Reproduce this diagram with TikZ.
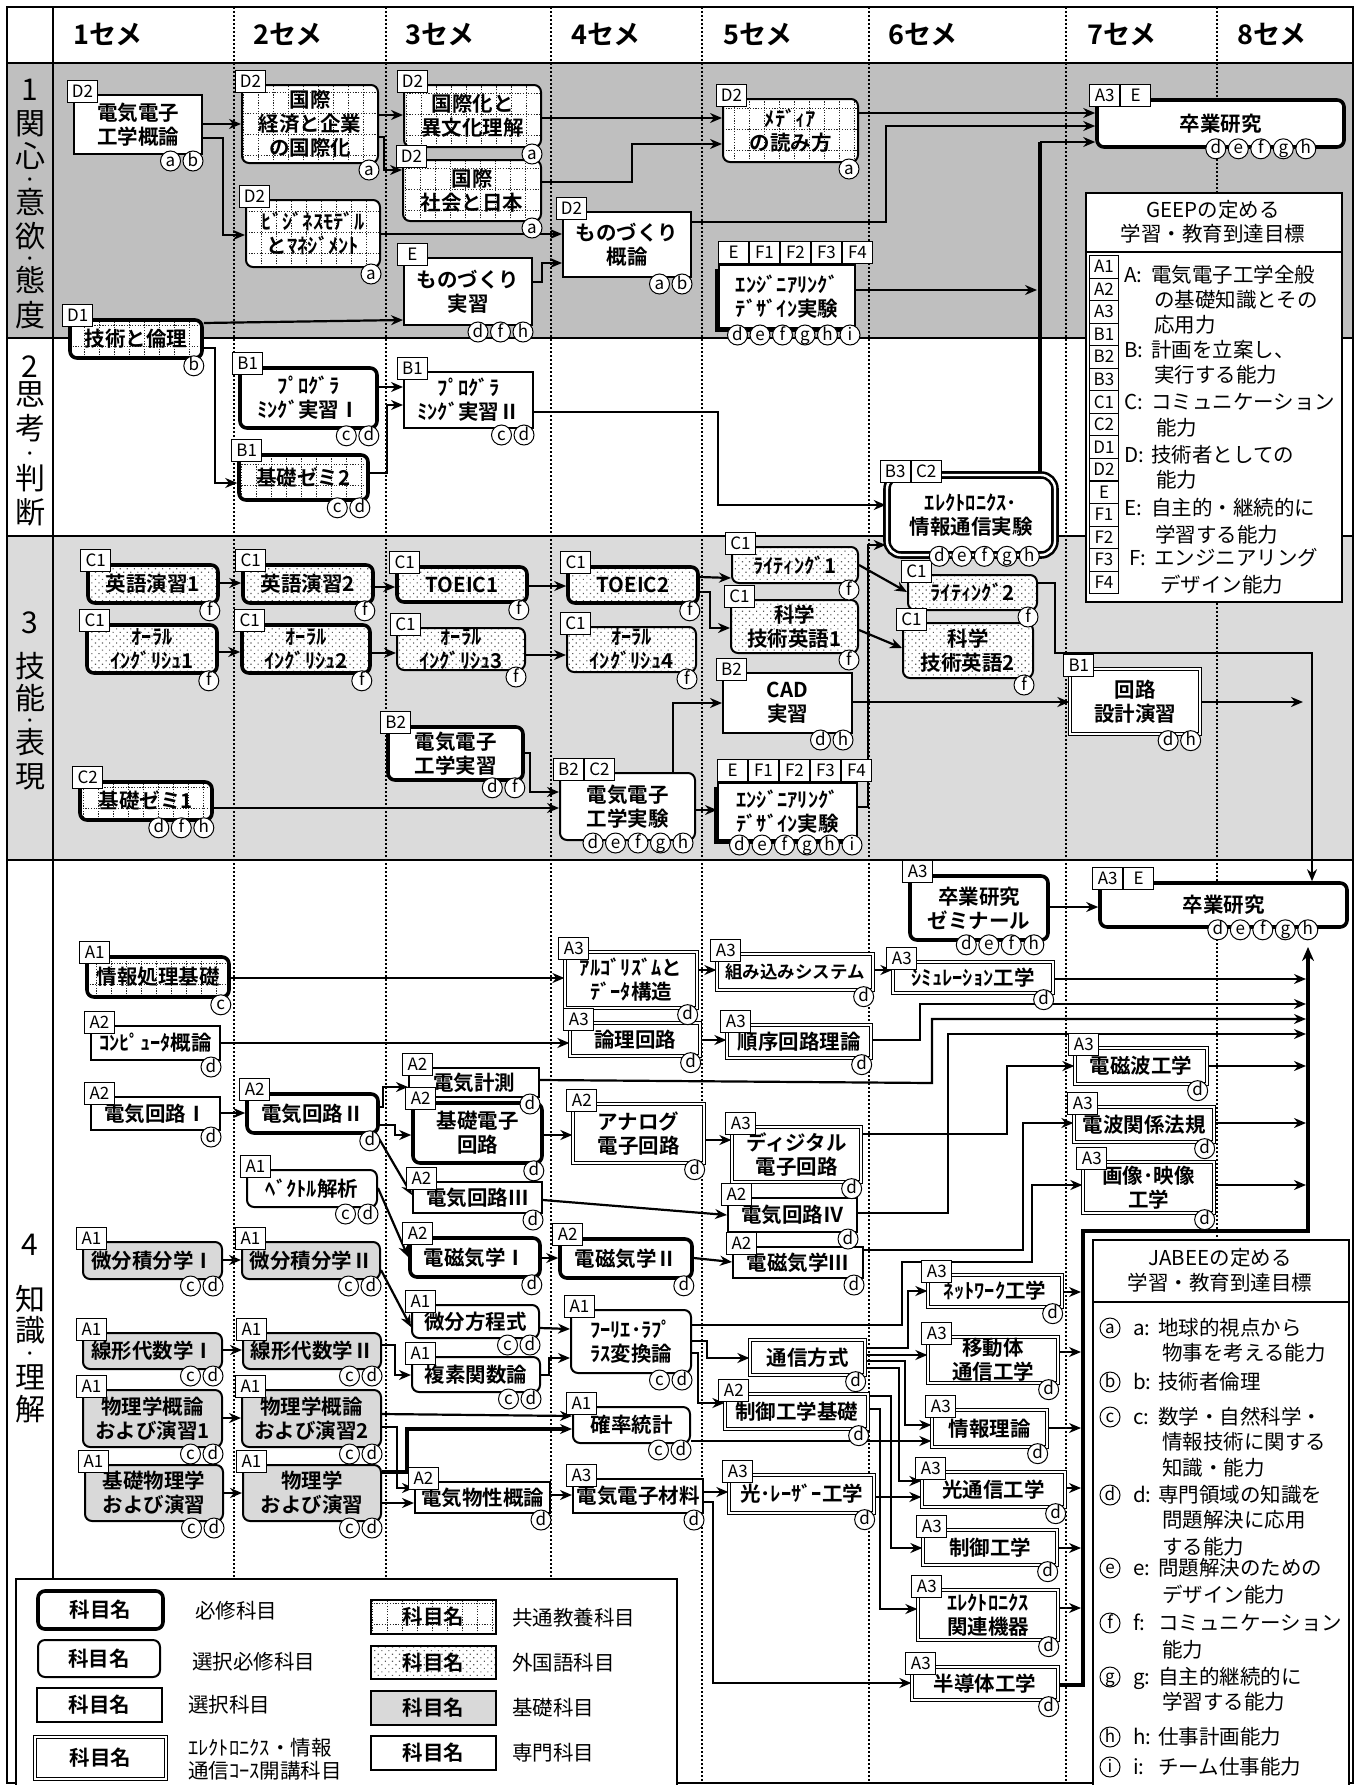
\documentclass[tikz,border=0pt]{standalone}
\usepackage{fontspec}
\setmainfont{Noto Sans CJK JP}[BoldFont={Noto Sans CJK JP Bold}]
\usetikzlibrary{arrows.meta,patterns.meta,shadows}
\pgfdeclarelayer{bg}
\pgfdeclarelayer{conn}
\pgfsetlayers{bg,conn,main}
\newcommand\nf{\bfseries\fontsize{20.5}{24}\selectfont}
\newcommand\lf{\fontsize{20.5}{25}\selectfont}
\newcommand\crs[7]{\node[#2, minimum width={(#5)-(#3)}, minimum height={(#6)-(#4)}] (#1) at ({((#3)+(#5))/2},{((#4)+(#6))/2}) {#7};}
\newcommand\tgx[4]{\foreach \tgl [count=\tgi from 0] in {#4} {\node[tagb, anchor=south west] at ([xshift={#2+\tgi*31}, yshift={#3}]#1.north west) {\tgl};}}
\newcommand\tg[2]{\tgx{#1}{-6}{-9}{#2}}
\newcommand\cix[5]{\foreach \cil [count=\cii from 1] in {#5} {\node[cir] at ([xshift={#2-(#4-\cii)*22.5}, yshift={#3}]#1.south east) {\cil};}}
\newcommand\ci[3]{\cix{#1}{-10}{-6}{#2}{#3}}
\newcommand\rlfont{\fontsize{30}{34}\selectfont}
\newcommand\rdot{\raisebox{6.5pt}{\bfseries\fontsize{13}{13}\selectfont ・}}
\begin{document}
\lineskiplimit=-1000pt
\begin{tikzpicture}[x=1pt,y=-1pt,
 base/.style={draw, fill=white, inner sep=0pt, align=center, font=\nf, line width=2pt},
 req/.style={base, line width=3.6pt, rounded corners=7pt},
 sreq/.style={base, line width=2pt, rounded corners=7pt},
 sel/.style={base, line width=2pt},
 ele/.style={base, line width=1.3pt, double, double distance=2.2pt},
 kyo/.style={path picture={\draw[black!85, line width=1pt, dash pattern=on 1.2pt off 1.5pt, xstep=15pt, ystep=21pt] (path picture bounding box.south west) grid (path picture bounding box.north east);}},
 gai/.style={preaction={fill=white}, pattern={Dots[distance=5pt, radius=0.8pt, angle=45]}, pattern color=black!65},
 kiso/.style={fill=black!15},
 shd/.style={base, line width=2pt, drop shadow={shadow xshift=-4pt, shadow yshift=-4pt, opacity=1, fill=black}},
 dthick/.style={base, line width=2.6pt, double, double distance=2.4pt, rounded corners=14pt},
 small/.style={font=\bfseries\fontsize{17.5}{21}\selectfont},
 tagb/.style={draw, fill=white, line width=1pt, minimum width=30pt, minimum height=22pt, inner sep=0pt, font=\fontsize{17}{17}\selectfont, text height=12pt, text depth=0pt},
 cir/.style={circle, draw, fill=white, line width=1pt, minimum size=20pt, inner sep=0pt, font=\fontsize{17}{17}\selectfont, text height=11pt, text depth=1pt},
 ar/.style={line width=2.2pt, -{Stealth[length=12pt,width=10pt]}},
 thk/.style={line width=4pt},
 coldot/.style={line width=1.6pt, dash pattern=on 1.6pt off 2.4pt},
 rlab/.style={anchor=north, inner sep=0pt, align=center, font=\rlfont},
 hdr/.style={anchor=west, inner sep=0pt, font=\bfseries\fontsize{27}{27}\selectfont, text height=23pt, text depth=4pt},
 gtxt/.style={anchor=west, inner sep=0pt, font=\lf, text height=18pt, text depth=4pt},
 ctxt/.style={inner sep=0pt, font=\lf, text height=18pt, text depth=4pt},
]
\useasboundingbox (0,0) rectangle (1361,1785);
\begin{pgfonlayer}{bg}
 \fill[white] (0,0) rectangle (1361,1785);
 \fill[black!25] (7,63) rectangle (1353,338);
 \fill[black!14] (7,536) rectangle (1353,860);
 \foreach \xx in {234,386,551} \draw[coldot] (\xx,7) -- (\xx,1578);
 \foreach \xx in {702,869,1066} \draw[coldot] (\xx,7) -- (\xx,1783);
 \draw[coldot] (1217,7) -- (1217,1239);
 \foreach \yy in {63,338,536,860} \draw[line width=2pt] (7,\yy) -- (1353,\yy);
 \draw[line width=2pt] (53,7) -- (53,1578);
 \draw[line width=2pt] (7,7) rectangle (1353,1783);
\end{pgfonlayer}
% header
\foreach \lab/\xx in {1/73,2/253,3/405,4/571,5/723,6/888,7/1087,8/1237} \node[hdr] at (\xx,35) {\lab セメ};
% row labels
\node[rlab] (rl1) at (30,79) {1\\関\\[-1pt]心\\[-11pt]\rdot\\[-11pt]意\\欲\\[-12pt]\rdot\\[-12pt]態\\[1pt]度};
\node[rlab] (rl2) at (30,356) {2\\[-6pt]思\\考\\[-9pt]\rdot\\[-9pt]判\\断};
\node[rlab] (rl3) at (30,612) {3\\[10pt]技\\[-2pt]能\\[-12pt]\rdot\\[-12pt]表\\現};
\node[rlab] (rl4) at (30,1234) {4\\[21pt]知\\[-3pt]識\\[-11pt]\rdot\\[-10pt]理\\[-2pt]解};

% ---------- row 1
\crs{gk}{sel}{74}{95}{202}{154}{電気電子\\工学概論}
\crs{kk}{sreq,kyo}{242}{85}{378}{163}{国際\\経済と企業\\の国際化}
\crs{bm}{sreq,kyo}{246}{200}{380}{267}{ﾋﾞｼﾞﾈｽﾓﾃﾞﾙ\\とﾏﾈｼﾞﾒﾝﾄ}
\crs{gr}{req,kyo}{70}{320}{202}{358}{技術と倫理}
\crs{ib}{sreq,kyo}{404}{85}{541}{147}{国際化と\\異文化理解}
\crs{ks}{sreq,kyo}{403}{160}{541}{221}{国際\\社会と日本}
\crs{mj}{sel}{404}{258}{532}{325}{ものづくり\\実習}
\crs{mg}{sel}{563}{212}{691}{277}{ものづくり\\概論}
\crs{md}{sreq,kyo}{723}{99}{858}{162}{ﾒﾃﾞｨｱ\\の読み方}
\crs{ed1}{shd}{719}{265}{855}{328}{ｴﾝｼﾞﾆｱﾘﾝｸﾞ\\ﾃﾞｻﾞｲﾝ実験}
\crs{sk1}{req}{1097}{100}{1344}{147}{卒業研究}
% ---------- row 2
\crs{pj1}{req}{240}{368}{377}{428}{ﾌﾟﾛｸﾞﾗ\\ﾐﾝｸﾞ実習Ⅰ}
\crs{kz2}{req,kyo}{239}{455}{368}{500}{基礎ゼミ2}
\crs{pj2}{sel}{404}{372}{533}{428}{ﾌﾟﾛｸﾞﾗ\\ﾐﾝｸﾞ実習Ⅱ}
\crs{ej}{dthick}{887}{475}{1055}{555}{ｴﾚｸﾄﾛﾆｸｽ･\\情報通信実験}
% ---------- row 3
\crs{e1}{req,gai}{88}{565}{218}{603}{英語演習1}
\crs{e2}{req,gai}{243}{565}{373}{603}{英語演習2}
\crs{t1}{req,gai}{397}{567}{527}{602}{TOEIC1}
\crs{t2}{req,gai}{568}{567}{698}{603}{TOEIC2}
\crs{o1}{req,gai}{87}{625}{217}{673}{ｵｰﾗﾙ\\ｲﾝｸﾞﾘｼｭ1}
\crs{o2}{req,gai}{242}{625}{370}{673}{ｵｰﾗﾙ\\ｲﾝｸﾞﾘｼｭ2}
\crs{o3}{sreq,gai}{397}{628}{525}{670}{ｵｰﾗﾙ\\ｲﾝｸﾞﾘｼｭ3}
\crs{o4}{sreq,gai}{567}{627}{696}{672}{ｵｰﾗﾙ\\ｲﾝｸﾞﾘｼｭ4}
\crs{w1}{sreq,gai}{732}{547}{858}{583}{ﾗｲﾃｨﾝｸﾞ1}
\crs{g1}{sreq,gai}{731}{600}{858}{653}{科学\\技術英語1}
\crs{w2}{sreq,gai}{908}{575}{1037}{610}{ﾗｲﾃｨﾝｸﾞ2}
\crs{g2}{sreq,gai}{903}{623}{1033}{678}{科学\\技術英語2}
\crs{cad}{sel}{723}{673}{852}{733}{CAD\\実習}
\crs{ks2}{ele}{1070}{669}{1200}{734}{回路\\設計演習}
\crs{ej2}{req}{388}{727}{523}{780}{電気電子\\工学実習}
\crs{kz1}{req,kyo}{80}{782}{212}{820}{基礎ゼミ1}
\crs{ex}{sreq}{560}{773}{695}{840}{電気電子\\工学実験}
\crs{ed2}{shd}{718}{783}{857}{840}{ｴﾝｼﾞﾆｱﾘﾝｸﾞ\\ﾃﾞｻﾞｲﾝ実験}
% ---------- row 4
\crs{sz}{req}{910}{876}{1048}{940}{卒業研究\\ゼミナール}
\crs{sk2}{req}{1100}{883}{1347}{927}{卒業研究}
\crs{jk}{req,kyo}{87}{957}{229}{997}{情報処理基礎}
\crs{cg}{sel}{91}{1026}{220}{1060}{ｺﾝﾋﾟｭｰﾀ概論}
\crs{dk1}{sel}{91}{1097}{220}{1130}{電気回路Ⅰ}
\crs{dk2}{req}{247}{1094}{378}{1133}{電気回路Ⅱ}
\crs{vk}{sreq}{247}{1170}{377}{1207}{ﾍﾞｸﾄﾙ解析}
\crs{bs1}{sreq,kiso}{83}{1242}{222}{1279}{微分積分学Ⅰ}
\crs{bs2}{sreq,kiso}{242}{1242}{380}{1279}{微分積分学Ⅱ}
\crs{sd1}{sreq,kiso}{83}{1333}{222}{1369}{線形代数学Ⅰ}
\crs{sd2}{sreq,kiso}{243}{1333}{381}{1369}{線形代数学Ⅱ}
\crs{bg1}{sreq,kiso}{83}{1390}{222}{1447}{物理学概論\\および演習1}
\crs{bg2}{sreq,kiso}{242}{1390}{381}{1447}{物理学概論\\および演習2}
\crs{kb}{sreq,kiso}{85}{1465}{223}{1521}{基礎物理学\\および演習}
\crs{bt}{sreq,kiso}{243}{1465}{381}{1521}{物理学\\および演習}
\crs{dks}{sel}{409}{1068}{539}{1097}{電気計測}
\crs{kd}{req}{413}{1103}{542}{1163}{基礎電子\\回路}
\crs{dk3}{sel}{413}{1182}{542}{1213}{電気回路Ⅲ}
\crs{dj1}{req}{410}{1238}{540}{1277}{電磁気学Ⅰ}
\crs{bh}{sreq}{412}{1305}{539}{1338}{微分方程式}
\crs{fk}{sreq}{412}{1357}{540}{1392}{複素関数論}
\crs{db}{sel}{415}{1482}{550}{1513}{電気物性概論}
\crs{al}{ele}{565}{952}{697}{1008}{ｱﾙｺﾞﾘｽﾞﾑと\\ﾃﾞｰﾀ構造}
\crs{rk}{ele}{570}{1023}{700}{1056}{論理回路}
\crs{an}{ele}{573}{1104}{704}{1163}{アナログ\\電子回路}
\crs{dj2}{req}{560}{1239}{692}{1278}{電磁気学Ⅱ}
\crs{fr}{sreq}{571}{1310}{691}{1373}{ﾌｰﾘｴ･ﾗﾌﾟ\\ﾗｽ変換論}
\crs{kt}{sreq}{573}{1407}{690}{1443}{確率統計}
\crs{dz}{sel}{573}{1479}{703}{1513}{電気電子材料}
\crs{km}{ele,small}{717}{954}{873}{990}{組み込みシステム}
\crs{jr}{ele}{727}{1025}{871}{1058}{順序回路理論}
\crs{dg}{ele}{732}{1127}{861}{1182}{ディジタル\\電子回路}
\crs{dk4}{sel}{728}{1198}{857}{1232}{電気回路Ⅳ}
\crs{dj3}{sel}{733}{1247}{863}{1278}{電磁気学Ⅲ}
\crs{ts}{ele}{750}{1340}{865}{1375}{通信方式}
\crs{sk}{ele}{725}{1394}{868}{1429}{制御工学基礎}
\crs{hl}{ele}{729}{1475}{874}{1513}{光･ﾚｰｻﾞｰ工学}
\crs{sm}{ele}{893}{962}{1053}{993}{ｼﾐｭﾚｰｼｮﾝ工学}
\crs{dh}{ele}{1075}{1048}{1207}{1084}{電磁波工学}
\crs{dp}{ele}{1074}{1107}{1214}{1142}{電波関係法規}
\crs{gz}{ele}{1083}{1162}{1214}{1213}{画像･映像\\工学}
\crs{nw}{ele}{928}{1275}{1062}{1307}{ﾈｯﾄﾜｰｸ工学}
\crs{it}{ele}{928}{1337}{1058}{1383}{移動体\\通信工学}
\crs{jo}{ele}{932}{1410}{1047}{1447}{情報理論}
\crs{ht}{ele}{922}{1472}{1065}{1507}{光通信工学}
\crs{sg}{ele}{923}{1530}{1057}{1565}{制御工学}
\crs{ek}{ele}{918}{1590}{1058}{1640}{ｴﾚｸﾄﾛﾆｸｽ\\関連機器}
\crs{hd}{ele}{912}{1667}{1058}{1700}{半導体工学}

% tags
\tg{gk}{D2}\tg{kk}{D2}\tg{bm}{D2}\tg{gr}{D1}\tg{ib}{D2}\tg{ks}{D2}\tg{mj}{E}\tg{mg}{D2}\tg{md}{D2}
\tgx{ed1}{0}{0}{E,F1,F2,F3,F4}\tg{sk1}{A3,E}
\tg{pj1}{B1}\tg{kz2}{B1}\tg{pj2}{B1}\tg{ej}{B3,C2}
\tg{e1}{C1}\tg{e2}{C1}\tg{t1}{C1}\tg{t2}{C1}\tg{o1}{C1}\tg{o2}{C1}\tg{o3}{C1}\tg{o4}{C1}
\tg{w1}{C1}\tg{g1}{C1}\tg{w2}{C1}\tg{g2}{C1}\tg{cad}{B2}\tg{ks2}{B1}\tg{ej2}{B2}\tg{kz1}{C2}\tg{ex}{B2,C2}
\tgx{ed2}{0}{0}{E,F1,F2,F3,F4}
\tg{sz}{A3}\tg{sk2}{A3,E}\tg{jk}{A1}\tg{cg}{A2}\tg{dk1}{A2}\tg{dk2}{A2}\tg{vk}{A1}
\tg{bs1}{A1}\tg{bs2}{A1}\tg{sd1}{A1}\tg{sd2}{A1}\tg{bg1}{A1}\tg{bg2}{A1}\tg{kb}{A1}\tg{bt}{A1}
\tg{dks}{A2}\tg{kd}{A2}\tg{dk3}{A2}\tg{dj1}{A2}\tg{bh}{A1}\tg{fk}{A1}\tg{db}{A2}
\tg{al}{A3}\tg{rk}{A3}\tg{an}{A2}\tg{dj2}{A2}\tg{fr}{A1}\tg{kt}{A1}\tg{dz}{A3}
\tg{km}{A3}\tg{jr}{A3}\tg{dg}{A3}\tg{dk4}{A2}\tg{dj3}{A2}\tg{sk}{A2}\tg{hl}{A3}
\tg{sm}{A3}\tg{dh}{A3}\tg{dp}{A3}\tg{gz}{A3}\tg{nw}{A3}\tg{it}{A3}\tg{jo}{A3}\tg{ht}{A3}\tg{sg}{A3}\tg{ek}{A3}\tg{hd}{A3}

% circles
\ci{gk}{2}{a,b}\ci{kk}{1}{a}\ci{bm}{1}{a}\ci{gr}{1}{b}\ci{ib}{1}{a}\ci{ks}{1}{a}\ci{mj}{3}{d,f,h}\ci{mg}{2}{a,b}\ci{md}{1}{a}
\cix{ed1}{-6}{-6}{6}{d,e,f,g,h,i}\cix{sk1}{-40}{0}{5}{d,e,f,g,h}
\ci{pj1}{2}{c,d}\ci{kz2}{2}{c,d}\ci{pj2}{2}{c,d}\cix{ej}{-27}{0}{5}{d,e,f,g,h}
\ci{e1}{1}{f}\ci{e2}{1}{f}\ci{t1}{1}{f}\ci{t2}{1}{f}\ci{o1}{1}{f}\ci{o2}{1}{f}\ci{o3}{1}{f}\ci{o4}{1}{f}
\ci{w1}{1}{f}\ci{g1}{1}{f}\ci{w2}{1}{f}\ci{g2}{1}{f}\ci{cad}{2}{d,h}\ci{ks2}{2}{d,h}\ci{ej2}{2}{d,f}\ci{kz1}{3}{d,f,h}
\cix{ex}{-13}{-2}{5}{d,e,f,g,h}\cix{ed2}{-6}{-4}{6}{d,e,f,g,h,i}
\cix{sz}{-16}{-3}{4}{d,e,f,h}\cix{sk2}{-41}{-1}{5}{d,e,f,g,h}\ci{jk}{1}{c}\ci{cg}{1}{d}\ci{dk1}{1}{d}\ci{dk2}{1}{d}\ci{vk}{2}{c,d}
\ci{bs1}{2}{c,d}\ci{bs2}{2}{c,d}\ci{sd1}{2}{c,d}\ci{sd2}{2}{c,d}\ci{bg1}{2}{c,d}\ci{bg2}{2}{c,d}\ci{kb}{2}{c,d}\ci{bt}{2}{c,d}
\ci{dks}{1}{d}\ci{kd}{1}{d}\ci{dk3}{1}{d}\ci{dj1}{1}{d}\ci{bh}{2}{c,d}\ci{fk}{2}{c,d}\ci{db}{1}{d}
\ci{al}{1}{d}\ci{rk}{1}{d}\ci{an}{1}{d}\ci{dj2}{1}{d}\ci{fr}{2}{c,d}\ci{kt}{2}{c,d}\ci{dz}{1}{d}
\ci{km}{1}{d}\ci{jr}{1}{d}\ci{dg}{1}{d}\ci{dk4}{1}{d}\ci{dj3}{1}{d}\ci{ts}{1}{d}\ci{sk}{1}{d}\ci{hl}{1}{d}
\ci{sm}{1}{d}\ci{dh}{1}{d}\ci{dp}{1}{d}\ci{gz}{1}{d}\ci{nw}{1}{d}\ci{it}{1}{d}\ci{jo}{1}{d}\ci{ht}{1}{d}\ci{sg}{1}{d}\ci{ek}{1}{d}\ci{hd}{1}{d}

% free-end coordinates
\coordinate (ve1) at (1037,290);
\coordinate (ve2) at (1303,702);
\coordinate (jn1) at (1040,142);
\coordinate (trA) at (1081,0);
\coordinate (trB) at (1306,0);
\coordinate (vt) at (1308,947);

\begin{pgfonlayer}{conn}
% row 1
\draw[ar] (gk.east|-0,124) -- (kk.west|-0,124);
\draw[ar] (gk.east|-0,138) -- (223,138) |- (bm.west|-0,235);
\draw[ar] (kk.east|-0,115) -- (ib.west|-0,115);
\draw[ar] (kk.east|-0,137) -- (384,137) |- (ks.west|-0,170);
\draw[ar] (bm.east|-0,234) -- (mg.west|-0,234);
\draw[ar] (mj.east|-0,282) -- (542,282) |- (mg.west|-0,263);
\draw[ar] (gr.east|-0,323) -- (mj.west|-0,320);
\draw[ar] (ib.east|-0,118) -- (md.west|-0,118);
\draw[ar] (ks.east|-0,182) -- (632,182) |- (md.west|-0,144);
\draw[ar] (md.east|-0,113) -- (sk1.west|-0,113);
\draw[ar] (mg.east|-0,222) -- (886,222) |- (sk1.west|-0,126);
\draw[ar] (ed1.east|-0,290) -- (ve1);
\draw[thk] (1040,0|-ej.north) -- (jn1);
\draw[ar] (jn1) -- (sk1.west|-0,142);
% row 2
\draw[ar] (gr.east|-0,348) -- (215,348) |- (kz2.west|-0,483);
\draw[ar] (pj1.east|-0,387) -- (pj2.west|-0,387);
\draw[ar] (kz2.east|-0,473) -- (387,473) |- (pj2.west|-0,405);
\draw[ar] (pj2.east|-0,412) -- (718,412) |- (ej.west|-0,505);
\draw[ar] (ed2.east|-0,807) -- (868,807) |- (ej.west|-0,545);
% row 3
\draw[ar] (e1.east|-0,583) -- (e2.west|-0,583);
\draw[ar] (e2.east|-0,587) -- (t1.west|-0,587);
\draw[ar] (t1.east|-0,586) -- (t2.west|-0,586);
\draw[ar] (t2.east|-0,577) -- (w1.west|-0,578);
\draw[ar] (t2.east|-0,592) -- (710,592) |- (g1.west|-0,628);
\draw[ar] (o1.east|-0,652) -- (o2.west|-0,652);
\draw[ar] (o2.east|-0,653) -- (o3.west|-0,653);
\draw[ar] (o3.east|-0,655) -- (o4.west|-0,655);
\draw[ar] (w1.east|-0,565) -- (w2.west|-0,592);
\draw[ar] (g1.east|-0,630) -- (g2.west|-0,648);
\draw[ar] (w2.east|-0,583) -- (1055,583) |- (1312,653) -- (1312,0|-sk2.north);
\draw[ar] (cad.east|-0,702) -- (ks2.west|-0,702);
\draw[ar] (ks2.east|-0,702) -- (ve2);
\draw[ar] (ej2.east|-0,753) -- (530,753) |- (ex.west|-0,792);
\draw[ar] (kz1.east|-0,808) -- (ex.west|-0,808);
\draw[ar] (673,0|-ex.north) |- (cad.west|-0,703);
\draw[ar] (ex.east|-0,810) -- (ed2.west|-0,810);
% row 4
\draw[ar] (sz.east|-0,907) -- (sk2.west|-0,907);
\draw[ar] (jk.east|-0,978) -- (al.west|-0,978);
\draw[ar] (cg.east|-0,1043) -- (rk.west|-0,1043);
\draw[ar] (dk1.east|-0,1113) -- (dk2.west|-0,1113);
\draw[ar] (dk2.east|-0,1107) -- (383,1107) |- (dks.west|-0,1087);
\draw[ar] (dk2.east|-0,1125) -- (395,1125) |- (kd.west|-0,1135);
\draw[ar] ([xshift=-3pt]dk2.south east) -- (dk3.west|-0,1195);
\draw[ar] (vk.east|-0,1188) -- (dj1.west|-0,1257);
\draw[ar] (bs1.east|-0,1260) -- (bs2.west|-0,1260);
\draw[ar] (bs2.east|-0,1270) -- (bh.west|-0,1327);
\draw[ar] (sd1.east|-0,1350) -- (sd2.west|-0,1350);
\draw[ar] (sd2.east|-0,1345) -- (395,1345) |- (fk.west|-0,1375);
\draw[ar] (bg1.east|-0,1418) -- (bg2.west|-0,1418);
\draw[ar] (kb.east|-0,1493) -- (bt.west|-0,1493);
\draw[ar] (bg2.east|-0,1414) -- (kt.west|-0,1416);
\draw[ar] (bg2.east|-0,1427) -- (397,1427) |- (db.west|-0,1488);
\draw[ar,line width=3.4pt] (bt.east|-0,1472) -- (407,1472) |- (kt.west|-0,1429);
\draw[ar] (bt.east|-0,1503) -- (db.west|-0,1503);
\draw[ar] (db.east|-0,1495) -- (dz.west|-0,1495);
\draw[ar] (bh.east|-0,1328) -- (fr.west|-0,1329);
\draw[ar] (fk.east|-0,1375) -- (549,1375) |- (fr.west|-0,1358);
\draw[ar] (dk3.east|-0,1200) -- (dk4.west|-0,1215);
\draw[ar] (dj1.east|-0,1258) -- (dj2.west|-0,1258);
\draw[ar] (dj2.east|-0,1258) -- (dj3.west|-0,1262);
\draw[ar] (kd.east|-0,1135) -- (an.west|-0,1135);
\draw[ar] (an.east|-0,1140) -- (dg.west|-0,1140);
\draw[ar] (al.east|-0,970) -- (km.west|-0,970);
\draw[ar] (rk.east|-0,1040) -- (jr.west|-0,1040);
\draw[ar] (km.east|-0,970) -- (sm.west|-0,970);
\draw[ar] (sm.east|-0,979) -- (trB|-0,979);
\draw[ar] (jr.east|-0,1040) -- (920,1040) |- (trB|-0,1004);
\draw[ar] (dks.east|-0,1080) -- (932,1083) |- (trB|-0,1019);
\draw[ar] (dk4.east|-0,1213) -- (948,1213) |- (trB|-0,1034);
\draw[ar] (dg.east|-0,1134) -- (1007,1134) |- (dh.west|-0,1066);
\draw[ar] (dj3.east|-0,1250) -- (1023,1250) |- (dp.west|-0,1123);
\draw[ar] (fr.east|-0,1325) -- (902,1325) -- (902,1262) -- (1032,1262) |- (gz.west|-0,1185);
\draw[ar] (dh.east|-0,1066) -- (trB|-0,1066);
\draw[ar] (dp.east|-0,1123) -- (trB|-0,1123);
\draw[ar] (gz.east|-0,1185) -- (trB|-0,1185);
\draw[thk,-{Stealth[length=14pt,width=12pt]}] (hd.east|-0,1685) -- (1083,1685) -- (1083,1231) -- (1308,1231) -- (vt);
\draw[ar] (nw.east|-0,1292) -- (trA|-0,1292);
\draw[ar] (it.east|-0,1352) -- (trA|-0,1352);
\draw[ar] (jo.east|-0,1428) -- (trA|-0,1428);
\draw[ar] (ht.east|-0,1488) -- (trA|-0,1488);
\draw[ar] (sg.east|-0,1548) -- (trA|-0,1548);
\draw[ar] (ek.east|-0,1608) -- (trA|-0,1608);
\draw[ar] (ts.east|-0,1348) -- (908,1348) |- (nw.west|-0,1291);
\draw[ar] (ts.east|-0,1355) -- (it.west|-0,1355);
\draw[ar] (ts.east|-0,1361) -- (905,1361) |- (jo.west|-0,1425);
\draw[ar] (ts.east|-0,1368) -- (899,1368) |- (ht.west|-0,1481);
\draw[ar] (sk.east|-0,1396) -- (891,1396) |- (sg.west|-0,1548);
\draw[ar] (sk.east|-0,1409) -- (880,1409) |- (ek.west|-0,1609);
\draw[ar] (kt.east|-0,1441) -- (jo.west|-0,1441);
\draw[ar] (hl.east|-0,1497) -- (ht.west|-0,1497);
\draw[ar] (dz.east|-0,1492) -- (hl.west|-0,1492);
\draw[ar] (dz.east|-0,1502) -- (713,1502) |- (hd.west|-0,1683);
\draw[ar] (fr.east|-0,1341) -- (707,1341) |- (ts.west|-0,1358);
\draw[ar] (fr.east|-0,1353) -- (698,1353) |- (sk.west|-0,1403);
\end{pgfonlayer}

% GEEP box
\node[draw, fill=white, line width=1.5pt, anchor=north west, minimum width=256pt, minimum height=409pt, inner sep=0pt] (geep) at (1085,192) {};
\draw[line width=1.5pt] (geep.west|-0,252) -- (geep.east|-0,252);
\node[ctxt] at (1213,210) {GEEPの定める};
\node[ctxt] at (1213,234) {学習・教育到達目標};
\foreach \t [count=\i from 0] in {A1,A2,A3,B1,B2,B3,C1,C2,D1,D2,E,F1,F2,F3,F4}
  \node[tagb, minimum width=29pt, minimum height=22.5pt, anchor=north west] at (1089,{255+\i*22.55}) {\t};
\node[gtxt] at (1124,275) {A:}; \node[gtxt] at (1151,275) {電気電子工学全般};
\node[gtxt] at (1154,300) {の基礎知識とその}; \node[gtxt] at (1154,325) {応用力};
\node[gtxt] at (1124,350) {B:}; \node[gtxt] at (1151,350) {計画を立案し、};
\node[gtxt] at (1154,375) {実行する能力};
\node[gtxt] at (1124,402) {C:}; \node[gtxt] at (1151,402) {コミュニケーション};
\node[gtxt] at (1156,428) {能力};
\node[gtxt] at (1124,455) {D:}; \node[gtxt] at (1151,455) {技術者としての};
\node[gtxt] at (1156,480) {能力};
\node[gtxt] at (1124,508) {E:}; \node[gtxt] at (1151,508) {自主的・継続的に};
\node[gtxt] at (1155,535) {学習する能力};
\node[gtxt] at (1129,558) {F:}; \node[gtxt] at (1154,558) {エンジニアリング};
\node[gtxt] at (1160,585) {デザイン能力};

% JABEE box
\node[draw, fill=white, line width=1.5pt, anchor=north west, minimum width=256pt, minimum height=546pt, inner sep=0pt] (jabee) at (1092,1239) {};
\draw[line width=1.5pt] (jabee.west|-0,1302) -- (jabee.east|-0,1302);
\node[ctxt] at (1220,1258) {JABEEの定める};
\node[ctxt] at (1220,1283) {学習・教育到達目標};
\foreach \l/\yy/\tx in {a/1328/地球的視点から, b/1382/技術者倫理, c/1417/数学・自然科学・, d/1495/専門領域の知識を, e/1568/問題解決のための, f/1623/コミュニケーション, g/1677/自主的継続的に, h/1737/仕事計画能力, i/1767/チーム仕事能力}
  {\node[cir] at (1110,\yy) {\l}; \node[gtxt] at (1133,\yy) {\l:}; \node[gtxt] at (1158,\yy) {\tx};}
\foreach \yy/\tx in {1353/物事を考える能力, 1442/情報技術に関する, 1468/知識・能力, 1520/問題解決に応用, 1547/する能力, 1595/デザイン能力, 1650/能力, 1702/学習する能力}
  \node[gtxt] at (1162,\yy) {\tx};

% legend
\node[draw, fill=white, line width=1.5pt, anchor=north west, minimum width=661pt, minimum height=210pt, inner sep=0pt] (lgbox) at (15,1578) {};
\crs{lg1}{req}{38}{1591}{163}{1629}{科目名}
\crs{lg2}{sreq}{38}{1640}{160}{1677}{科目名}
\crs{lg3}{sel}{37}{1688}{162}{1722}{科目名}
\crs{lg4}{ele}{35}{1737}{166}{1779}{科目名}
\crs{lg5}{sel,kyo}{371}{1600}{496}{1634}{科目名}
\crs{lg6}{sel,gai}{371}{1646}{496}{1679}{科目名}
\crs{lg7}{sel,kiso}{371}{1691}{496}{1725}{科目名}
\crs{lg8}{sel}{371}{1736}{496}{1770}{科目名}
\node[gtxt] at (195,1611) {必修科目};
\node[gtxt] at (192,1662) {選択必修科目};
\node[gtxt] at (188,1705) {選択科目};
\node[gtxt] at (188,1748) {ｴﾚｸﾄﾛﾆｸｽ・情報};
\node[gtxt] at (188,1771) {通信ｺｰｽ開講科目};
\node[gtxt] at (512,1618) {共通教養科目};
\node[gtxt] at (512,1663) {外国語科目};
\node[gtxt] at (512,1708) {基礎科目};
\node[gtxt] at (512,1753) {専門科目};
\end{tikzpicture}
\end{document}
